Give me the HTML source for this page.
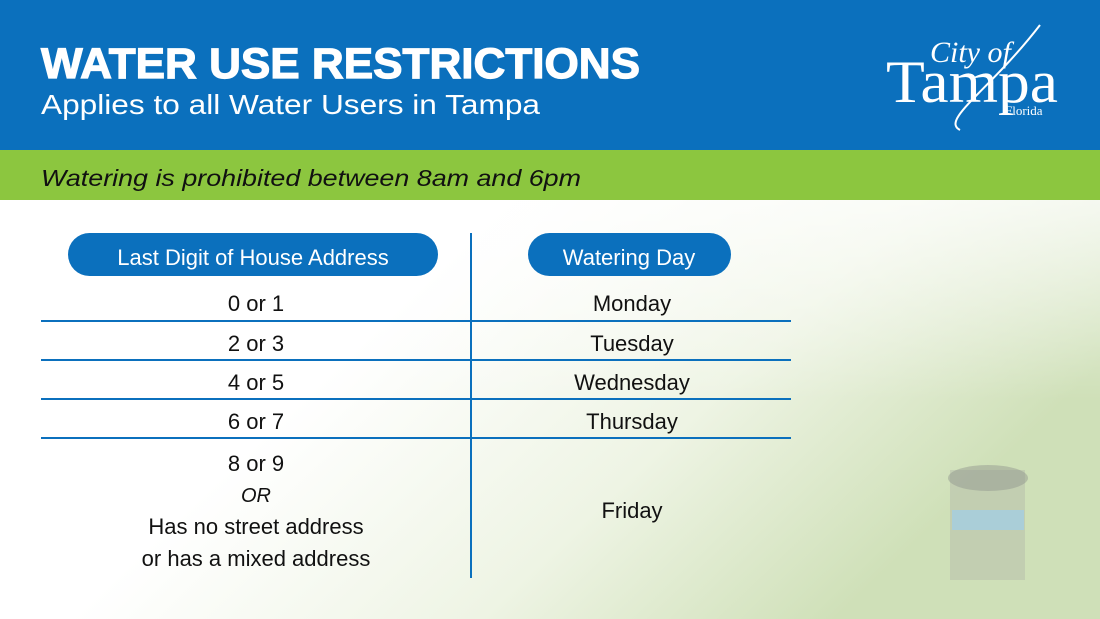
<!DOCTYPE html>
<html><head><meta charset="utf-8"><style>
html,body{margin:0;padding:0;width:1100px;height:619px;overflow:hidden;background:#fff}
svg{display:block}
text{font-family:"Liberation Sans",sans-serif}
</style></head><body>
<svg width="1100" height="619" viewBox="0 0 1100 619" xmlns="http://www.w3.org/2000/svg">
<defs>
<linearGradient id="g1" x1="0" y1="0" x2="1" y2="0.4">
<stop offset="0.4" stop-color="#ffffff"/>
<stop offset="0.72" stop-color="#eef4e4"/>
<stop offset="1" stop-color="#cfe0b8"/>
</linearGradient>
<linearGradient id="g2" x1="0" y1="0" x2="0" y2="1">
<stop offset="0" stop-color="#ffffff" stop-opacity="0.7"/>
<stop offset="1" stop-color="#ffffff" stop-opacity="0"/>
</linearGradient>
</defs>
<rect x="0" y="200" width="1100" height="419" fill="url(#g1)"/>
<rect x="0" y="200" width="1100" height="200" fill="url(#g2)"/>
<!-- sprinkler -->
<rect x="950" y="470" width="75" height="110" fill="#a8aca4" opacity="0.35"/>
<rect x="952" y="510" width="72" height="20" fill="#9fcfe8" opacity="0.7"/>
<ellipse cx="988" cy="478" rx="40" ry="13" fill="#8f938c" opacity="0.45"/>
<rect x="0" y="0" width="1100" height="150" fill="#0b70bd"/>
<rect x="0" y="150" width="1100" height="50" fill="#8cc63f"/>
<text x="41" y="78" font-size="43" font-weight="bold" fill="#fff" stroke="#fff" stroke-width="1.2" textLength="599" lengthAdjust="spacingAndGlyphs">WATER USE RESTRICTIONS</text>
<text x="41" y="114" font-size="28" fill="#fff" textLength="499" lengthAdjust="spacingAndGlyphs">Applies to all Water Users in Tampa</text>
<text x="41" y="186" font-size="23" font-style="italic" fill="#111" textLength="540" lengthAdjust="spacingAndGlyphs">Watering is prohibited between 8am and 6pm</text>
<!-- logo -->
<text x="930" y="62" style="font-family:'Liberation Serif',serif;font-style:italic" font-size="30" fill="#fff">City of</text>
<text x="886" y="102" style="font-family:'Liberation Serif',serif" font-size="60" fill="#fff" textLength="172" lengthAdjust="spacingAndGlyphs">Tampa</text>
<text x="1005" y="115" style="font-family:'Liberation Serif',serif" font-size="13" fill="#fff">Florida</text>
<path d="M960 130 C 940 120, 990 90, 1040 25" stroke="#fff" stroke-width="2" fill="none"/>
<!-- table -->
<rect x="68" y="233" width="370" height="43" rx="21.5" fill="#0b70bd"/>
<rect x="528" y="233" width="203" height="43" rx="21.5" fill="#0b70bd"/>
<text x="253" y="265" font-size="22" fill="#fff" text-anchor="middle">Last Digit of House Address</text>
<text x="629" y="265" font-size="22" fill="#fff" text-anchor="middle">Watering Day</text>
<line x1="471" y1="233" x2="471" y2="578" stroke="#0b70bd" stroke-width="2"/>
<g stroke="#0b70bd" stroke-width="2">
<line x1="41" y1="321" x2="791" y2="321"/><line x1="41" y1="360" x2="791" y2="360"/>
<line x1="41" y1="399" x2="791" y2="399"/><line x1="41" y1="438" x2="791" y2="438"/>
</g>
<g font-size="22" fill="#111" text-anchor="middle">
<text x="256" y="311">0 or 1</text><text x="632" y="311">Monday</text>
<text x="256" y="351">2 or 3</text><text x="632" y="351">Tuesday</text>
<text x="256" y="390">4 or 5</text><text x="632" y="390">Wednesday</text>
<text x="256" y="429">6 or 7</text><text x="632" y="429">Thursday</text>
<text x="256" y="471">8 or 9</text>
<text x="256" y="502" font-style="italic" font-size="20">OR</text>
<text x="256" y="534">Has no street address</text>
<text x="256" y="566">or has a mixed address</text>
<text x="632" y="518">Friday</text>
</g>
</svg>
</body></html>
